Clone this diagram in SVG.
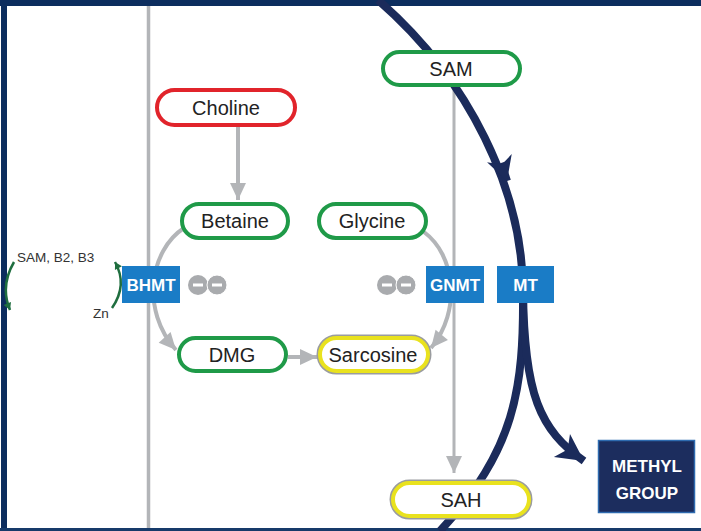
<svg xmlns="http://www.w3.org/2000/svg" width="701" height="531" viewBox="0 0 701 531">
<style>
.pill{fill:#fff;stroke-width:4}
.g{stroke:#1f9a48}
.r{stroke:#e1242b}
.y{stroke:#e9e21e}
.lbl{font-family:"Liberation Sans",Arial,sans-serif;font-size:20px;fill:#222;text-anchor:middle}
.enz{fill:#1a7cc6}
.enzt{font-family:"Liberation Sans",Arial,sans-serif;font-size:17px;font-weight:bold;fill:#fff;text-anchor:middle}
.gl{fill:none;stroke:#b3b5b8;stroke-width:4}
.nv{fill:none;stroke:#1b2b5b;stroke-width:8}
.inh{fill:#a9abae}
.small{font-family:"Liberation Sans",Arial,sans-serif;font-size:13.5px;fill:#333}
</style>
<defs>
<marker id="gh" markerUnits="userSpaceOnUse" orient="auto" overflow="visible" refX="0" refY="0" markerWidth="20" markerHeight="20"><path d="M-17 -8 L0 0 L-17 8 Z" fill="#b3b5b8"/></marker>
<marker id="nh" markerUnits="userSpaceOnUse" orient="auto" overflow="visible" refX="0" refY="0" markerWidth="30" markerHeight="30"><path d="M-27 -14 L0 0 L-27 14 L-20 0 Z" fill="#1b2b5b"/></marker>
<marker id="nm" markerUnits="userSpaceOnUse" orient="auto" overflow="visible" refX="0" refY="0" markerWidth="30" markerHeight="30"><path d="M-24 -13 L0 0 L-24 13 L-17 0 Z" fill="#1b2b5b"/></marker>
<marker id="sh" markerUnits="userSpaceOnUse" orient="auto" overflow="visible" refX="0" refY="0" markerWidth="10" markerHeight="10"><path d="M-7 -4 L0 0 L-7 4 Z" fill="#1f6e3f"/></marker>
</defs>
<rect width="701" height="531" fill="#fff"/>
<g id="frame">
<rect x="0" y="0" width="701" height="6" fill="#0c2d5e"/>
<rect x="1" y="0" width="6" height="531" fill="#0c2d5e"/>
<rect x="0" y="528" width="701" height="3" fill="#163a6a"/>
</g>
<g id="connectors">
<line x1="148.5" y1="6" x2="148.5" y2="528" stroke="#b3b5b8" stroke-width="3.5"/>
<line x1="238" y1="127" x2="238" y2="200" class="gl" marker-end="url(#gh)"/>
<line x1="454" y1="86" x2="454" y2="473" stroke="#b3b5b8" stroke-width="3" marker-end="url(#gh)"/>
<path d="M 184 228 C 150 250, 140 310, 176 350" class="gl" marker-end="url(#gh)"/>
<path d="M 424 232 C 455 255, 462 310, 431 348" class="gl" marker-end="url(#gh)"/>
<line x1="288" y1="357" x2="317" y2="357" class="gl" marker-end="url(#gh)"/>
<path d="M 378 0 C 470 80, 522 190, 523 290" class="nv"/>
<path d="M 501 163 L 507 181" class="nv" marker-end="url(#nm)"/>
<path d="M 523 290 C 524 390, 515 450, 440 531" class="nv"/>
<path d="M 523 290 C 524 395, 540 430, 584 461" class="nv" marker-end="url(#nh)"/>
<path d="M 112 308 Q 128 285 115 262" fill="none" stroke="#1f6e3f" stroke-width="2.5" marker-end="url(#sh)"/>
<path d="M 14 262 Q 0 286 10 310" fill="none" stroke="#1f6e3f" stroke-width="2.5" marker-end="url(#sh)"/>
</g>
<g id="cofactors">
<text x="17" y="262" class="small">SAM, B2, B3</text>
<text x="93" y="318" class="small">Zn</text>
</g>
<g id="choline"><rect x="157" y="90" width="138" height="35" rx="17.5" class="pill r"/><text x="226" y="115" class="lbl">Choline</text></g>
<g id="betaine"><rect x="182" y="204" width="106" height="34" rx="17" class="pill g"/><text x="235" y="228" class="lbl">Betaine</text></g>
<g id="glycine"><rect x="319" y="204" width="107" height="34" rx="17" class="pill g"/><text x="372" y="228" class="lbl">Glycine</text></g>
<g id="sam"><rect x="383" y="52" width="137" height="33" rx="16.5" class="pill g"/><text x="451" y="76" class="lbl">SAM</text></g>
<g id="dmg"><rect x="179" y="338" width="107" height="33" rx="16.5" class="pill g"/><text x="232" y="362" class="lbl">DMG</text></g>
<g id="sarcosine"><rect x="320" y="338" width="108" height="33" rx="16.5" fill="#fff" stroke="#9a9c9f" stroke-width="7"/><rect x="320" y="338" width="108" height="33" rx="16.5" class="pill y"/><text x="373" y="362" class="lbl">Sarcosine</text></g>
<g id="sah"><rect x="393" y="483" width="136" height="33" rx="16.5" fill="#fff" stroke="#9a9c9f" stroke-width="7"/><rect x="393" y="483" width="136" height="33" rx="16.5" class="pill y"/><text x="461" y="507" class="lbl">SAH</text></g>
<g id="bhmt"><rect x="122" y="266" width="58" height="37" class="enz"/><text x="151" y="291" class="enzt">BHMT</text></g>
<g id="gnmt"><rect x="426" y="266" width="58" height="37" class="enz"/><text x="455" y="291" class="enzt">GNMT</text></g>
<g id="mt"><rect x="497" y="266" width="57" height="37" class="enz"/><text x="525.5" y="291" class="enzt">MT</text></g>
<g id="inhibit-bhmt">
<circle cx="198" cy="285" r="10" class="inh"/><circle cx="217" cy="285" r="10" class="inh" stroke="#fff" stroke-width="1"/>
<rect x="193" y="283.5" width="10" height="3" fill="#fff"/><rect x="212" y="283.5" width="10" height="3" fill="#fff"/>
</g>
<g id="inhibit-gnmt">
<circle cx="387" cy="285" r="10" class="inh"/><circle cx="406" cy="285" r="10" class="inh" stroke="#fff" stroke-width="1"/>
<rect x="382" y="283.5" width="10" height="3" fill="#fff"/><rect x="401" y="283.5" width="10" height="3" fill="#fff"/>
</g>
<g id="methyl-group"><rect x="598.5" y="440.5" width="96" height="72" fill="#1c2d5e" stroke="#2e6bb0" stroke-width="1.5"/>
<text x="647" y="472" class="enzt">METHYL</text><text x="647" y="499" class="enzt">GROUP</text></g>
</svg>
